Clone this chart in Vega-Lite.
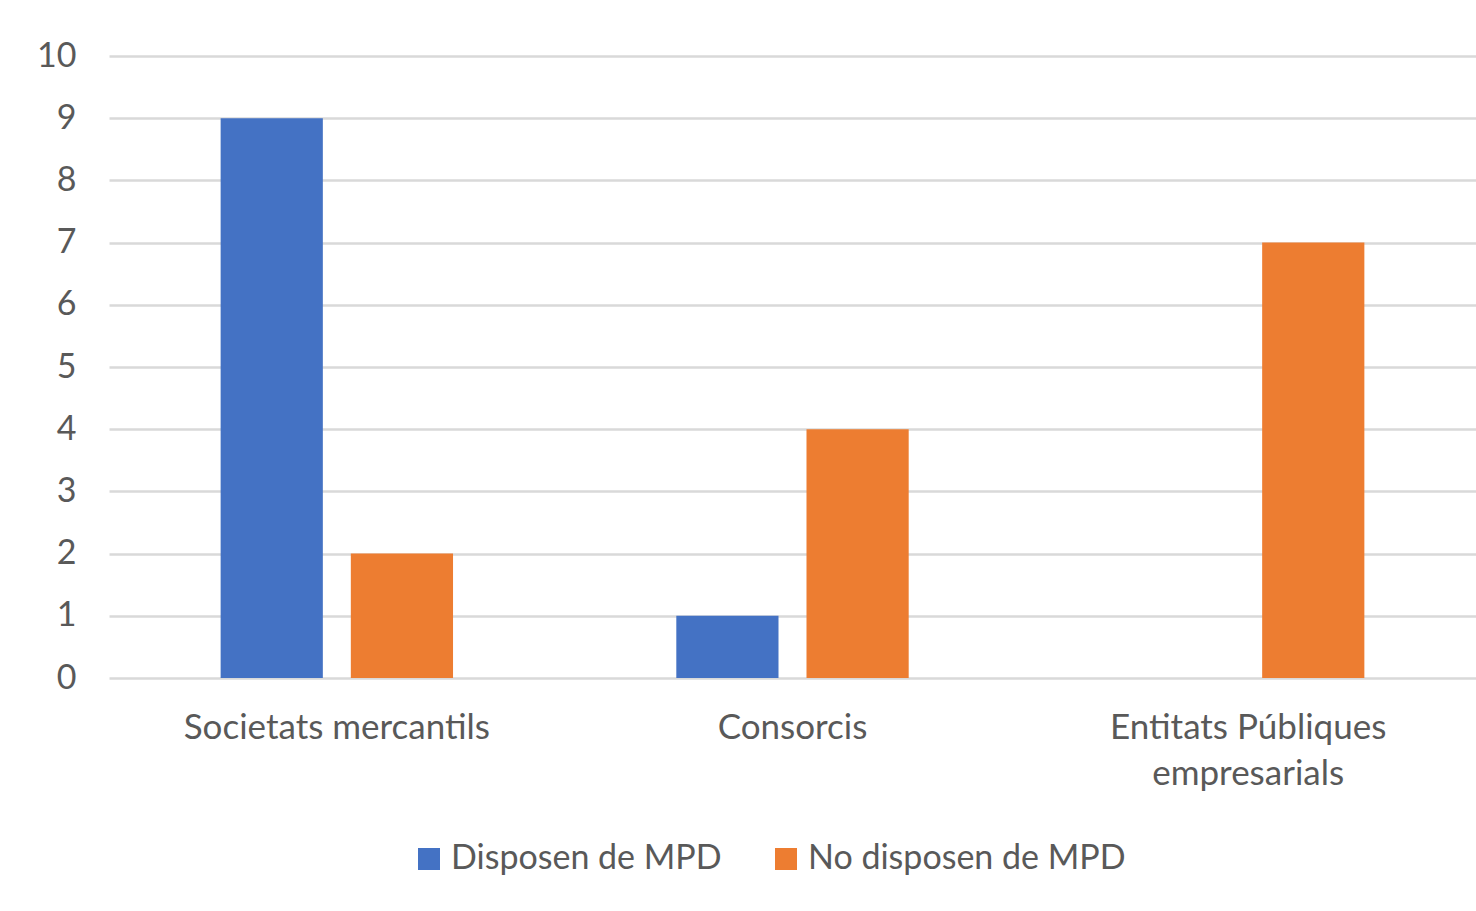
{
  "$schema": "https://vega.github.io/schema/vega-lite/v6.json",
  "autosize": "none",
  "width": 1367,
  "height": 622,
  "padding": {"left": 109, "top": 56, "right": 0, "bottom": 233},
  "background": "white",
  "data": {
    "values": [
      {"categoria": "Societats mercantils", "serie": "Disposen de MPD", "valor": 9},
      {"categoria": "Societats mercantils", "serie": "No disposen de MPD", "valor": 2},
      {"categoria": "Consorcis", "serie": "Disposen de MPD", "valor": 1},
      {"categoria": "Consorcis", "serie": "No disposen de MPD", "valor": 4},
      {"categoria": "Entitats Públiques empresarials", "serie": "Disposen de MPD", "valor": 0},
      {"categoria": "Entitats Públiques empresarials", "serie": "No disposen de MPD", "valor": 7}
    ]
  },
  "mark": {"type": "bar"},
  "encoding": {
    "x": {
      "field": "categoria",
      "type": "nominal",
      "sort": ["Societats mercantils", "Consorcis", "Entitats Públiques empresarials"],
      "scale": {"paddingInner": 0.49, "paddingOuter": 0.245},
      "axis": {
        "title": null,
        "labelAngle": 0,
        "domain": false,
        "ticks": false,
        "labelFont": "Lato",
        "labelFontSize": 35,
        "labelColor": "#595959",
        "labelPadding": 32,
        "labelLineHeight": 46,
        "labelLimit": 0,
        "labelOverlap": false,
        "labelExpr": "datum.label == 'Entitats Públiques empresarials' ? ['Entitats Públiques', 'empresarials'] : datum.label"
      }
    },
    "xOffset": {
      "field": "serie",
      "type": "nominal",
      "scale": {"paddingInner": 0.215, "paddingOuter": 0}
    },
    "y": {
      "field": "valor",
      "type": "quantitative",
      "scale": {"domain": [0, 10], "nice": false},
      "axis": {
        "title": null,
        "values": [0, 1, 2, 3, 4, 5, 6, 7, 8, 9, 10],
        "labelOverlap": false,
        "domain": false,
        "ticks": false,
        "grid": true,
        "gridColor": "#d9d9d9",
        "gridWidth": 2.5,
        "labelFont": "Lato",
        "labelFontSize": 34,
        "labelColor": "#595959",
        "labelPadding": 33
      }
    },
    "color": {
      "field": "serie",
      "type": "nominal",
      "scale": {"domain": ["Disposen de MPD", "No disposen de MPD"], "range": ["#4472c4", "#ed7d31"]},
      "legend": {
        "title": null,
        "orient": "none",
        "direction": "horizontal",
        "legendX": 303,
        "legendY": 786,
        "symbolType": "square",
        "symbolSize": 484,
        "symbolStrokeWidth": 0,
        "labelFont": "Lato",
        "labelFontSize": 34,
        "labelColor": "#595959",
        "labelOffset": 5,
        "labelLimit": 0,
        "columnPadding": 47
      }
    }
  },
  "config": {
    "view": {"stroke": null}
  }
}
